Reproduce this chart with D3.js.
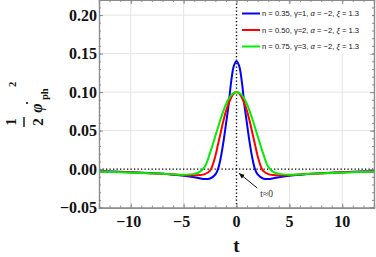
<!DOCTYPE html>
<html>
<head>
<meta charset="utf-8">
<script src="https://cdn.jsdelivr.net/npm/d3@7"></script>
<style>
  html, body { margin: 0; padding: 0; background: #fff; }
  svg { display: block; }
  .tick-label { font-family: "Liberation Serif", "DejaVu Serif", serif; font-weight: bold; font-size: 16px; fill: #111; }
  .legend-text { font-family: "Liberation Sans", Arial, sans-serif; font-size: 7.6px; fill: #111; }
</style>
</head>
<body>
<svg id="chart" width="376" height="257"></svg>
<script>
// values
const tValues = [-13, -11, -9, -7, -6, -5, -4, -3.5, -3, -2.5, -2, -1.75, -1.5, -1.25, -1, -0.75, -0.5, -0.25,
  0, 0.25, 0.5, 0.75, 1, 1.25, 1.5, 1.75, 2, 2.5, 3, 3.5, 4, 5, 6, 7, 9, 11, 13];

const blueValues = [-0.0028, -0.0036, -0.0047, -0.0062, -0.0072, -0.0085, -0.0105, -0.012, -0.013, -0.0122, -0.007, 0.000, 0.014, 0.034, 0.058, 0.083, 0.114, 0.134,
  0.140, 0.134, 0.114, 0.083, 0.058, 0.034, 0.014, 0.000, -0.007, -0.0122, -0.013, -0.012, -0.0105, -0.0085, -0.0072, -0.0062, -0.0047, -0.0036, -0.0028];

const redValues = [-0.003, -0.0037, -0.0048, -0.0062, -0.007, -0.0078, -0.0082, -0.0078, -0.0065, -0.002, 0.017, 0.032, 0.047, 0.062, 0.075, 0.085, 0.093, 0.098,
  0.100, 0.098, 0.093, 0.085, 0.075, 0.062, 0.047, 0.032, 0.017, -0.002, -0.0065, -0.0078, -0.0082, -0.0078, -0.007, -0.0062, -0.0048, -0.0037, -0.003];

const greenValues = [-0.0035, -0.0041, -0.005, -0.0062, -0.0068, -0.0072, -0.0062, -0.004, 0.003, 0.021, 0.043, 0.054, 0.065, 0.075, 0.084, 0.091, 0.096, 0.099,
  0.100, 0.099, 0.096, 0.091, 0.084, 0.075, 0.065, 0.054, 0.043, 0.021, 0.003, -0.004, -0.0062, -0.0072, -0.0068, -0.0062, -0.005, -0.0041, -0.0035];

const seriesNames = ['n = 0.35, γ=1, α = −2, ξ = 1.3', 'n = 0.50, γ=2, α = −2, ξ = 1.3', 'n = 0.75, γ=3, α = −2, ξ = 1.3'];
const seriesColors = ['#0000ff', '#ff0000', '#00ee00'];

const xTicks = [-10, -5, 0, 5, 10];
const yTicks = [-0.05, 0, 0.05, 0.10, 0.15, 0.20];

const svg = d3.select('#chart');
const plotLeft = 99, plotRight = 374, plotTop = 0, plotBottom = 207.6;

const x = d3.scaleLinear().domain([-13, 13]).range([plotLeft, plotRight]);
const y = d3.scaleLinear().domain([-0.05, 0.2196]).range([plotBottom, plotTop]);

// grid
svg.append('g').selectAll('line')
  .data(xTicks.filter(d => d !== 0))
  .enter().append('line')
  .attr('x1', d => x(d)).attr('x2', d => x(d))
  .attr('y1', plotTop).attr('y2', plotBottom)
  .style('stroke', '#e4e4e4').style('stroke-width', 1);

svg.append('g').selectAll('line')
  .data(yTicks.filter(d => d > 0))
  .enter().append('line')
  .attr('x1', plotLeft).attr('x2', plotRight)
  .attr('y1', d => y(d)).attr('y2', d => y(d))
  .style('stroke', '#e4e4e4').style('stroke-width', 1);

// dotted zero lines
svg.append('line')
  .attr('x1', plotLeft).attr('x2', plotRight)
  .attr('y1', y(0)).attr('y2', y(0))
  .style('stroke', '#000').style('stroke-width', 1.4).style('stroke-dasharray', '1.3,2.2');
svg.append('line')
  .attr('x1', x(0)).attr('x2', x(0))
  .attr('y1', plotTop).attr('y2', plotBottom)
  .style('stroke', '#000').style('stroke-width', 1.4).style('stroke-dasharray', '1.3,2.2');

// curves
const line = d3.line()
  .x((d, i) => x(tValues[i]))
  .y(d => y(d))
  .curve(d3.curveCatmullRom.alpha(0.5));

[blueValues, redValues, greenValues].forEach((vals, i) => {
  svg.append('path')
    .datum(vals)
    .attr('d', line)
    .style('fill', 'none')
    .style('stroke', seriesColors[i])
    .style('stroke-width', 2);
});

// frame with ticks
const frameColor = '#8a8a8a';
const xMinor = d3.range(-13, 14, 1);
const yMinor = d3.range(-0.05, 0.215, 0.01);

svg.append('g').attr('transform', `translate(0,${plotBottom})`)
  .call(d3.axisBottom(x).tickValues(xTicks).tickSize(-4).tickFormat(''));
svg.append('g').attr('transform', `translate(0,${plotTop})`)
  .call(d3.axisTop(x).tickValues(xTicks).tickSize(-4).tickFormat(''));
svg.append('g').attr('transform', `translate(${plotLeft},0)`)
  .call(d3.axisLeft(y).tickValues(yTicks).tickSize(-4).tickFormat(''));
svg.append('g').attr('transform', `translate(${plotRight},0)`)
  .call(d3.axisRight(y).tickValues(yTicks).tickSize(-4).tickFormat(''));

svg.append('g').attr('transform', `translate(0,${plotBottom})`)
  .call(d3.axisBottom(x).tickValues(xMinor).tickSize(-2).tickFormat(''));
svg.append('g').attr('transform', `translate(0,${plotTop})`)
  .call(d3.axisTop(x).tickValues(xMinor).tickSize(-2).tickFormat(''));
svg.append('g').attr('transform', `translate(${plotLeft},0)`)
  .call(d3.axisLeft(y).tickValues(yMinor).tickSize(-2).tickFormat(''));
svg.append('g').attr('transform', `translate(${plotRight},0)`)
  .call(d3.axisRight(y).tickValues(yMinor).tickSize(-2).tickFormat(''));

svg.selectAll('.domain').style('stroke', frameColor).style('stroke-width', 1.2);
svg.selectAll('.tick line').style('stroke', frameColor);

// tick labels
svg.append('g').selectAll('text')
  .data(xTicks)
  .enter().append('text')
  .attr('class', 'tick-label')
  .attr('x', d => x(d) - (d < 0 ? 2 : 0))
  .attr('y', 227)
  .attr('text-anchor', 'middle')
  .text(d => d < 0 ? '−' + Math.abs(d) : d);

svg.append('g').selectAll('text')
  .data(yTicks)
  .enter().append('text')
  .attr('class', 'tick-label')
  .attr('x', 97)
  .attr('y', d => y(d) + 5.5)
  .attr('text-anchor', 'end')
  .text(d => (d < 0 ? '−' : '') + Math.abs(d).toFixed(2));

// axis titles
svg.append('text')
  .attr('class', 'tick-label')
  .attr('x', x(0))
  .attr('y', 252)
  .attr('text-anchor', 'middle')
  .style('font-size', '19px')
  .text('t');

const yt = svg.append('g').attr('transform', 'rotate(-90)')
  .style('font-family', '"Liberation Serif", serif').style('font-weight', 'bold').style('fill', '#111');
yt.append('text').attr('x', -122).attr('y', 16).attr('text-anchor', 'middle').style('font-size', '15px').text('1');
yt.append('line').attr('x1', -127).attr('x2', -117).attr('y1', 24).attr('y2', 24)
  .style('stroke', '#111').style('stroke-width', 1.4);
yt.append('text').attr('x', -122).attr('y', 43).attr('text-anchor', 'middle').style('font-size', '15px').text('2');
yt.append('text').attr('x', -108).attr('y', 42).attr('text-anchor', 'middle')
  .style('font-size', '16px').style('font-style', 'italic').text('φ');
yt.append('circle').attr('cx', -103).attr('cy', 27).attr('r', 1.1).style('fill', '#111');
yt.append('text').attr('x', -100).attr('y', 48).style('font-size', '10.5px').text('ph');
yt.append('text').attr('x', -87).attr('y', 15.5).style('font-size', '10.5px').text('2');

// annotation arrow
svg.append('defs').append('marker')
  .attr('id', 'arr').attr('viewBox', '0 0 10 10').attr('refX', 9).attr('refY', 5)
  .attr('markerWidth', 6).attr('markerHeight', 6).attr('orient', 'auto')
  .append('path').attr('d', 'M0,1 L10,5 L0,9 Z').style('fill', '#111');
svg.append('line')
  .attr('x1', x(1.95)).attr('y1', y(-0.0245))
  .attr('x2', x(0.25)).attr('y2', y(-0.0055))
  .style('stroke', '#111').style('stroke-width', 1).attr('marker-end', 'url(#arr)');
svg.append('text')
  .attr('x', x(2.85)).attr('y', 197)
  .attr('text-anchor', 'middle')
  .style('font-family', '"Liberation Serif", serif').style('font-size', '9.5px').style('fill', '#333')
  .text('t≈0');

// legend
const legend = svg.append('g');
legend.append('rect')
  .attr('x', 240).attr('y', 4).attr('width', 132).attr('height', 50)
  .style('fill', '#fff');
seriesNames.forEach((name, i) => {
  const ly = 13.5 + i * 16.5;
  legend.append('line')
    .attr('x1', 242).attr('x2', 260).attr('y1', ly).attr('y2', ly)
    .style('stroke', seriesColors[i]).style('stroke-width', 2);
  const t = legend.append('text').attr('class', 'legend-text').attr('x', 262).attr('y', ly + 2.8);
  const parts = name.split(/([αγξ])/);
  parts.forEach(p => {
    const s = t.append('tspan').text(p);
    if (p === 'α' || p === 'ξ') s.style('font-style', 'italic');
  });
});
</script>
</body>
</html>
